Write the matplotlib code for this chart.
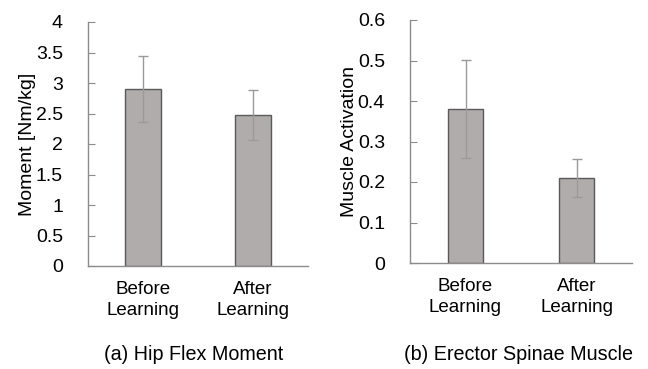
import matplotlib
matplotlib.use("Agg")
import matplotlib.pyplot as plt
import numpy as np

plt.rcParams['font.family'] = ['Liberation Sans', 'DejaVu Sans']

categories = ["Before\nLearning", "After\nLearning"]
moment_mean = [2.90, 2.48]
moment_upper = [3.44, 2.89]
moment_lower = [2.36, 2.06]
activation_mean = [0.38, 0.21]
activation_upper = [0.502, 0.258]
activation_lower = [0.26, 0.162]

bar_color = "#b0acab"
edge_color = "#5a5a5a"
axis_color = "#8c8c8c"
err_color = "#9a9a9a"

fig = plt.figure(figsize=(6.48, 3.69), dpi=100)
ax1 = fig.add_axes([88/648, 1-266/369, 220/648, 244/369])
ax2 = fig.add_axes([410/648, 1-263/369, 222/648, 243/369])

def draw(ax, mean, up, lo, ylim, yticks, ylabel, width):
    x = np.arange(len(categories))
    mean = np.array(mean); up = np.array(up); lo = np.array(lo)
    ax.bar(x, mean, width=width, color=bar_color, edgecolor=edge_color, linewidth=1.0, zorder=2)
    ax.errorbar(x, mean, yerr=[mean-lo, up-mean], fmt='none', ecolor=err_color,
                elinewidth=1.0, capsize=3.5, capthick=1.0, zorder=3)
    ax.set_xlim(-0.5, 1.5)
    ax.set_ylim(*ylim)
    ax.set_yticks(yticks)
    ax.set_yticklabels([f"{v:g}" for v in yticks])
    ax.set_xticks(x)
    ax.set_xticklabels(categories, fontsize=13.5, linespacing=1.3)
    for s in ['top', 'right']:
        ax.spines[s].set_visible(False)
    for s in ['left', 'bottom']:
        ax.spines[s].set_color(axis_color)
        ax.spines[s].set_linewidth(1.0)
    ax.tick_params(axis='y', direction='in', length=5, color=axis_color, labelsize=14, pad=18)
    ax.tick_params(axis='x', length=0, pad=11)
    ax.set_ylabel(ylabel, fontsize=14, labelpad=0)

draw(ax1, moment_mean, moment_upper, moment_lower, (0, 4), [0, 0.5, 1, 1.5, 2, 2.5, 3, 3.5, 4],
     "Moment [Nm/kg]", 0.33)
draw(ax2, activation_mean, activation_upper, activation_lower, (0, 0.6), [0, 0.1, 0.2, 0.3, 0.4, 0.5, 0.6],
     "Muscle Activation", 0.32)

fig.text(194/648, 1-354/369, "(a) Hip Flex Moment", ha='center', va='center', fontsize=14.2)
fig.text(518/648, 1-354/369, "(b) Erector Spinae Muscle", ha='center', va='center', fontsize=14.2)

fig.savefig("out.png", dpi=100)
